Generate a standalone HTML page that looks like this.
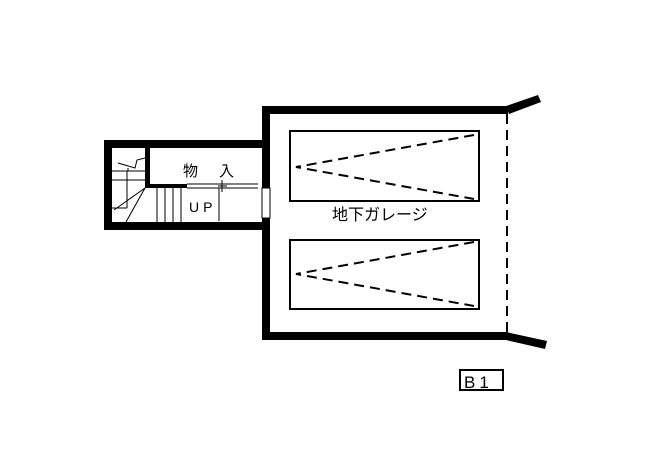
<!DOCTYPE html>
<html><head><meta charset="utf-8"><style>body{margin:0;background:#fff}svg{display:block}text{font-family:"Liberation Sans","Noto Sans CJK JP",sans-serif;fill:#000}</style></head><body>
<svg width="652" height="464" viewBox="0 0 652 464" xmlns="http://www.w3.org/2000/svg">
<g fill="#000">
<rect x="262" y="106" width="246" height="8"/>
<polygon points="506,106 538,95 541,102 509,114"/>
<rect x="262" y="106" width="8" height="234"/>
<rect x="262" y="332" width="246" height="8"/>
<polygon points="506,332 547,341 545,349 506,340"/>
<rect x="104" y="140" width="166" height="8"/>
<rect x="104" y="140" width="8" height="90"/>
<rect x="104" y="222" width="166" height="8"/>
<rect x="145" y="146" width="5" height="42"/>
<rect x="145" y="184" width="42" height="4"/>
</g>
<rect x="262" y="188" width="8" height="30" fill="#fff" stroke="#000" stroke-width="1"/>
<g stroke="#000" fill="none" stroke-width="1">
<line x1="187" y1="184" x2="258" y2="184"/><line x1="187" y1="188" x2="258" y2="188"/>
<line x1="222" y1="180" x2="222" y2="192"/><line x1="218" y1="186" x2="227" y2="186"/>
<line x1="219" y1="188" x2="219" y2="221"/>
<line x1="157" y1="188" x2="157" y2="222"/><line x1="165" y1="188" x2="165" y2="222"/>
<line x1="173" y1="188" x2="173" y2="222"/><line x1="181" y1="188" x2="181" y2="222"/>
<line x1="112" y1="171" x2="145" y2="171"/><line x1="112" y1="180" x2="145" y2="180"/>
<line x1="127" y1="171" x2="127" y2="208"/><line x1="112" y1="208" x2="127" y2="208"/>
<line x1="114" y1="210" x2="145" y2="188"/><line x1="126" y1="222" x2="145" y2="188"/>
<polyline points="118,163 135,168 137,160 145,158"/>
<line x1="128" y1="168" x2="128" y2="171"/>
</g>
<g stroke="#000" fill="none" stroke-width="2">
<rect x="290" y="131" width="189" height="70"/>
<rect x="290" y="240" width="189" height="69"/>
<rect x="460" y="370" width="43" height="20"/>
</g>
<g stroke="#000" fill="none" stroke-width="2" stroke-dasharray="10,6">
<polyline points="474,135 296,167 474,199"/>
<polyline points="474,242 296,274 474,306"/>
<line x1="507" y1="114" x2="507" y2="332"/>
</g>
<text x="183" y="176" font-size="15">物</text>
<text x="219" y="176" font-size="15">入</text>
<text x="189" y="212" font-size="14" letter-spacing="4">UP</text>
<text x="332" y="220" font-size="16">地下ガレージ</text>
<text x="464" y="388" font-size="17" letter-spacing="4">B1</text>
</svg>
</body></html>
